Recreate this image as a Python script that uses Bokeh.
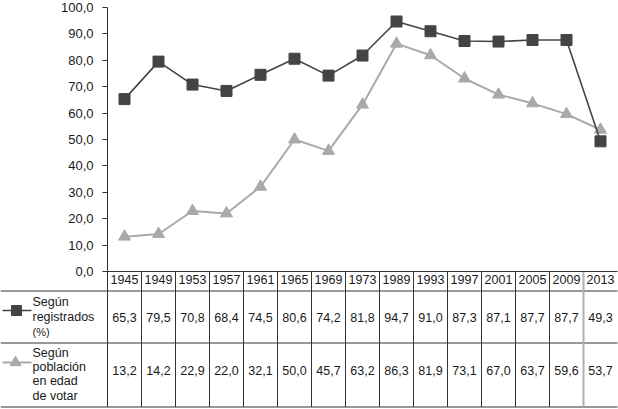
from bokeh.plotting import figure
from bokeh.models import Range1d, FixedTicker, LinearAxis
from bokeh.core.properties import value
from bokeh.embed import file_html
from bokeh.resources import INLINE

years = ["1945", "1949", "1953", "1957", "1961", "1965", "1969", "1973",
         "1989", "1993", "1997", "2001", "2005", "2009", "2013"]
registrados = [65.3, 79.5, 70.8, 68.4, 74.5, 80.6, 74.2, 81.8,
               94.7, 91.0, 87.3, 87.1, 87.7, 87.7, 49.3]
poblacion = [13.2, 14.2, 22.9, 22.0, 32.1, 50.0, 45.7, 63.2,
             86.3, 81.9, 73.1, 67.0, 63.7, 59.6, 53.7]
y_ticks = list(range(0, 101, 10))
label_reg = ["Según", "registrados"]
label_reg_small = "(%)"
label_pob = ["Según", "población", "en edad", "de votar"]

FONT = "Liberation Sans"
DARK = "#444444"
LIGHT = "#a9a9a9"
LINE = "#333333"
TXT = "#1a1a1a"

W, H = 618, 408
LEFT = 107                     # width of the label column (px)
N = len(years)
cw = 34.0                      # px per category
idx = list(range(N))

TOP_PX = 7                     # px from top where value 100 sits
ZERO_PX = 271                  # px from top where value 0 sits
ppu = (ZERO_PX - TOP_PX) / 100.0

x0 = -0.5 - LEFT / cw
x1 = x0 + W / cw
y_end = 100 + TOP_PX / ppu
y_start = -(H - ZERO_PX) / ppu

def px2x(px):
    return x0 + px / cw

def py(px):
    return (ZERO_PX - px) / ppu

def fmt(v):
    return f"{v:.1f}".replace(".", ",")

p = figure(width=W, height=H, output_backend="svg", toolbar_location=None,
           x_range=Range1d(x0, x1), y_range=Range1d(y_start, y_end),
           x_axis_type=None, y_axis_type=None, min_border=0)
p.outline_line_color = None
p.background_fill_color = "white"

# value axis at the left edge of the category area
yax = LinearAxis(ticker=FixedTicker(ticks=y_ticks, minor_ticks=[]),
                 fixed_location=-0.5, bounds=(0, 100))
yax.major_label_overrides = {t: fmt(t) for t in y_ticks}
yax.axis_line_color = LINE
yax.major_tick_line_color = LINE
yax.major_tick_in = 0
yax.major_tick_out = 5
yax.minor_tick_line_color = None
yax.major_label_standoff = 9
yax.major_label_text_font = FONT
yax.major_label_text_font_size = "13px"
yax.major_label_text_color = TXT
p.add_layout(yax, "left")

# category axis at value 0: years in the table header row
xax = LinearAxis(ticker=FixedTicker(ticks=idx, minor_ticks=[]),
                 fixed_location=0, bounds=(-0.5, N - 0.5))
xax.major_label_overrides = {i: years[i] for i in idx}
xax.axis_line_color = LINE
xax.major_tick_line_color = None
xax.major_tick_in = 0
xax.major_tick_out = 0
xax.minor_tick_line_color = None
xax.major_label_standoff = 3
xax.major_label_text_font = FONT
xax.major_label_text_font_size = "12.5px"
xax.major_label_text_color = TXT
p.add_layout(xax, "below")

p.xgrid.visible = False
p.ygrid.ticker = FixedTicker(ticks=y_ticks)
p.ygrid.grid_line_color = "#555555"
p.ygrid.grid_line_dash = "3 2"
p.ygrid.grid_line_width = 1
p.ygrid.bounds = (0, 100)
try:
    p.ygrid.cross_bounds = (-0.5, N - 0.5)
except Exception:
    pass

# series
p.line(idx, poblacion, line_color=LIGHT, line_width=2)
p.scatter(idx, poblacion, marker="triangle", size=12, fill_color=LIGHT, line_color=LIGHT)
p.line(idx, registrados, line_color=DARK, line_width=1.6)
p.scatter(idx, registrados, marker="square", size=11, fill_color=DARK, line_color=DARK)

# ---------------- data table ----------------
HDR_BOT = py(290.5)
ROW_SPLIT = py(342.5)
BOTTOM = py(406.5)
ROW1_Y = py(317)
ROW2_Y = py(370)

hy = [HDR_BOT, ROW_SPLIT, BOTTOM]
p.segment(x0=[x0] * 3, x1=[N - 0.5] * 3, y0=hy, y1=hy, line_color=LINE, line_width=1)
vx = [i - 0.5 for i in range(N - 1)]
p.segment(x0=vx, x1=vx, y0=[BOTTOM] * len(vx), y1=[0] * len(vx),
          line_color=LINE, line_width=1)
p.segment(x0=[N - 1.5], x1=[N - 1.5], y0=[BOTTOM], y1=[0],
          line_color="#b0b0b0", line_width=2)

p.text(x=idx, y=[ROW1_Y] * N, text=[fmt(v) for v in registrados],
       text_align="center", text_baseline="middle", text_color=TXT,
       text_font=value(FONT), text_font_size=value("12.5px"))
p.text(x=idx, y=[ROW2_Y] * N, text=[fmt(v) for v in poblacion],
       text_align="center", text_baseline="middle", text_color=TXT,
       text_font=value(FONT), text_font_size=value("12.5px"))

# legend keys in the label column
K1 = py(310)
K2 = py(362)
p.line([px2x(2), px2x(31)], [K1, K1], line_color=DARK, line_width=1.6)
p.scatter([px2x(16)], [K1], marker="square", size=10, fill_color=DARK, line_color=DARK)
p.line([px2x(2), px2x(31)], [K2, K2], line_color=LIGHT, line_width=2)
p.scatter([px2x(15)], [K2], marker="triangle", size=11, fill_color=LIGHT, line_color=LIGHT)

TX = px2x(32)
p.text(x=[TX] * 2, y=[py(301), py(316.5)], text=label_reg, text_align="left",
       text_baseline="middle", text_color=TXT,
       text_font=value(FONT), text_font_size=value("12.5px"))
p.text(x=[TX], y=[py(331.5)], text=[label_reg_small], text_align="left",
       text_baseline="middle", text_color=TXT,
       text_font=value(FONT), text_font_size=value("11px"))
p.text(x=[TX] * 4, y=[py(352.5), py(366.5), py(380.5), py(395)], text=label_pob,
       text_align="left", text_baseline="middle", text_color=TXT,
       text_font=value(FONT), text_font_size=value("12.5px"))

open("out.html", "w").write(file_html(p, INLINE))
